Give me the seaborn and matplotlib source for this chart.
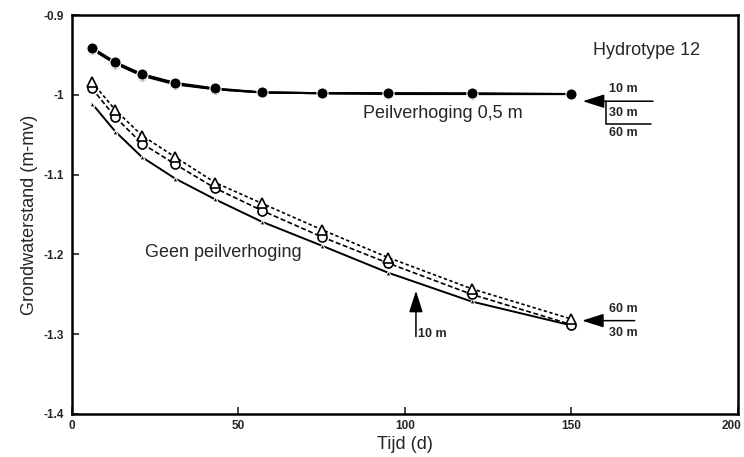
import matplotlib
matplotlib.use("Agg")
import matplotlib.pyplot as plt
import matplotlib.transforms as mtransforms
import seaborn as sns

days = [6, 13, 21, 31, 43, 57, 75, 95, 120, 150]
raised_10m = [-0.941, -0.959, -0.974, -0.985, -0.992, -0.997, -0.998, -0.998, -0.998, -0.999]
raised_30m = [-0.942, -0.960, -0.975, -0.986, -0.993, -0.997, -0.998, -0.998, -0.999, -0.999]
raised_60m = [-0.943, -0.961, -0.976, -0.987, -0.993, -0.997, -0.998, -0.999, -0.999, -0.999]
none_10m = [-1.011, -1.046, -1.078, -1.105, -1.131, -1.159, -1.189, -1.223, -1.259, -1.289]
none_30m = [-0.992, -1.028, -1.061, -1.087, -1.117, -1.145, -1.178, -1.211, -1.250, -1.288]
none_60m = [-0.984, -1.019, -1.051, -1.078, -1.110, -1.136, -1.169, -1.204, -1.243, -1.281]

xticks = [0, 50, 100, 150, 200]
yticks = [-0.9, -1.0, -1.1, -1.2, -1.3, -1.4]
ytick_labels = ["-0.9", "-1", "-1.1", "-1.2", "-1.3", "-1.4"]

sns.set_theme(style="ticks")
plt.rcParams['font.family'] = ['Liberation Sans', 'DejaVu Sans']

fig = plt.figure(figsize=(7.44, 4.57), dpi=100)
ax = fig.add_axes([0.0968, 0.0941, 0.895, 0.873])

k = dict(color="black", ax=ax, legend=False)
sns.lineplot(x=days, y=raised_60m, marker="o", markersize=8, linewidth=1.5, **k)
sns.lineplot(x=days, y=raised_30m, marker="o", markersize=8, linewidth=1.5, **k)
sns.lineplot(x=days, y=raised_10m, marker="o", markersize=8, linewidth=1.5, **k)

sns.lineplot(x=days, y=none_10m, marker="^", markersize=3.5, linewidth=1.4, **k)
sns.lineplot(x=days, y=none_30m, marker="o", markersize=6.5, markerfacecolor="white",
             markeredgecolor="black", markeredgewidth=1.2, linewidth=1.2, linestyle=(0, (3, 1.5)), **k)
sns.lineplot(x=days, y=none_60m, marker="^", markersize=6.5, markerfacecolor="white",
             markeredgecolor="black", markeredgewidth=1.2, linewidth=1.2, linestyle=(0, (2, 1.5)), **k)

ax.set_xlim(0, 200)
ax.set_ylim(-1.4, -0.9)
ax.set_xticks(xticks)
ax.set_xticklabels([str(t) for t in xticks], fontsize=8.5, fontweight="bold")
ax.set_yticks(yticks)
ax.set_yticklabels(ytick_labels, fontsize=8.5, fontweight="bold")
ax.tick_params(direction="in", length=5, width=1.2)
ax.tick_params(axis="x", pad=4)
ax.tick_params(axis="y", pad=6)
last = ax.get_xticklabels()[-1]
last.set_transform(last.get_transform() + mtransforms.ScaledTranslation(-6 / 100, 0, fig.dpi_scale_trans))
for s in ax.spines.values():
    s.set_linewidth(1.8)
    s.set_color("black")
ax.set_xlabel("Tijd (d)", fontsize=13, labelpad=3)
ax.set_ylabel("Grondwaterstand (m-mv)", fontsize=13, labelpad=4)

ax.text(172.7, -0.944, "Hydrotype 12", fontsize=13, ha="center", va="center")
ax.text(111.4, -1.023, "Peilverhoging 0,5 m", fontsize=13, ha="center", va="center")
ax.text(21.9, -1.198, "Geen peilverhoging", fontsize=13, ha="left", va="center")

arrow = dict(arrowstyle="-|>,head_length=1.1,head_width=0.35", color="black", lw=1.1,
             shrinkA=0, shrinkB=0)
# top right arrow
ax.annotate("", xy=(153.4, -1.008), xytext=(174.5, -1.008), arrowprops=arrow)
ax.plot([160.5, 160.5, 174], [-1.008, -1.036, -1.036], color="black", lw=1.1)
ax.text(161.3, -0.993, "10 m", fontsize=9, fontweight="bold", ha="left", va="center")
ax.text(161.3, -1.023, "30 m", fontsize=9, fontweight="bold", ha="left", va="center")
ax.text(161.3, -1.048, "60 m", fontsize=9, fontweight="bold", ha="left", va="center")
# bottom right arrow
ax.annotate("", xy=(153.2, -1.283), xytext=(169, -1.283), arrowprops=arrow)
ax.text(161.3, -1.268, "60 m", fontsize=9, fontweight="bold", ha="left", va="center")
ax.text(161.3, -1.298, "30 m", fontsize=9, fontweight="bold", ha="left", va="center")
# 10 m arrow
ax.annotate("", xy=(103.3, -1.2455), xytext=(103.3, -1.303), arrowprops=arrow)
ax.text(104.0, -1.300, "10 m", fontsize=9, fontweight="bold", ha="left", va="center")

fig.savefig("out.png", dpi=100)
